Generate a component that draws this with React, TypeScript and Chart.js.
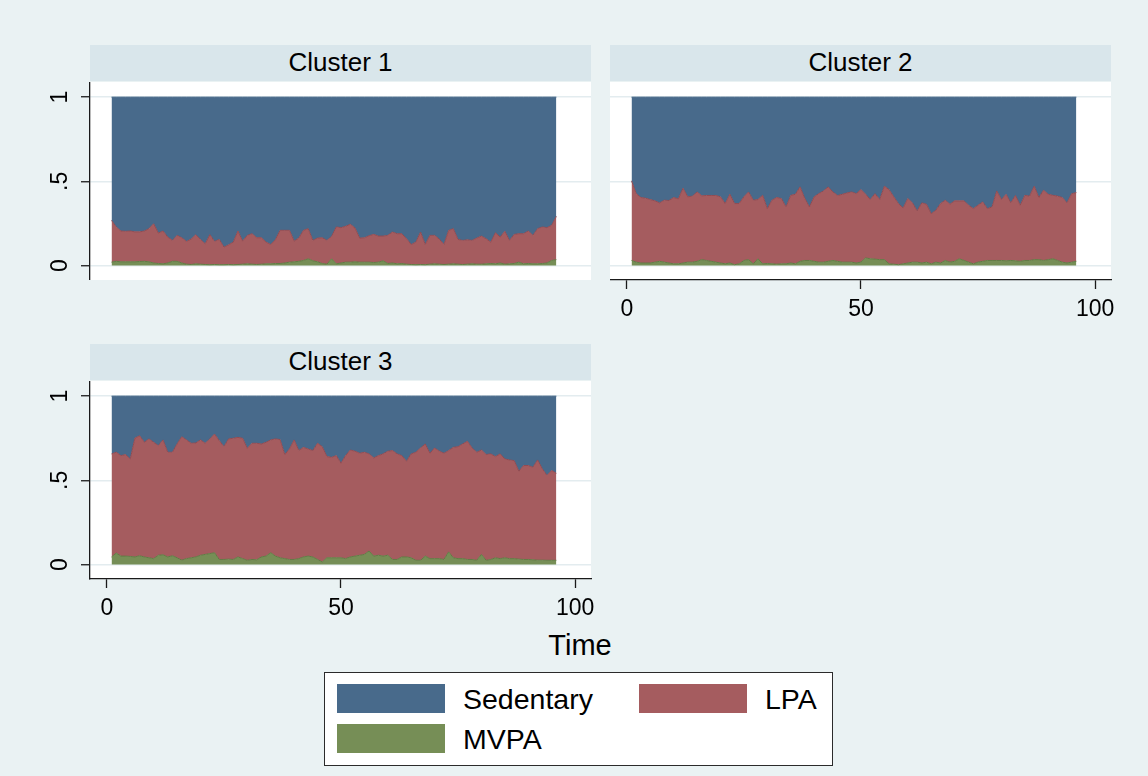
import React, { useEffect, useRef } from "react";
import { Chart, registerables } from "chart.js";

Chart.register(...registerables);

const TIME = Array.from({ length: 96 }, (_, i) => i + 1);
const X_TICKS = [0, 50, 100];
const Y_TICKS = [0, 0.5, 1];
const Y_TICK_LABELS = ["0", ".5", "1"];
const PANEL_TITLES = ["Cluster 1", "Cluster 2", "Cluster 3"];
const X_TITLE = "Time";
const LEGEND_ITEMS = ["Sedentary", "LPA", "MVPA"];

const C1_MVPA = [0.020,0.025,0.022,0.022,0.022,0.022,0.024,0.025,0.022,0.015,
0.012,0.010,0.015,0.025,0.025,0.015,0.008,0.006,0.010,0.008,
0.006,0.005,0.006,0.005,0.005,0.006,0.005,0.006,0.008,0.010,
0.008,0.006,0.008,0.010,0.010,0.012,0.012,0.015,0.020,0.022,
0.025,0.030,0.040,0.028,0.022,0.012,0.008,0.040,0.010,0.015,
0.020,0.020,0.022,0.020,0.020,0.020,0.018,0.020,0.028,0.012,
0.015,0.010,0.012,0.008,0.006,0.005,0.006,0.005,0.008,0.010,
0.008,0.006,0.008,0.010,0.008,0.006,0.008,0.010,0.008,0.008,
0.010,0.012,0.010,0.015,0.008,0.010,0.012,0.020,0.010,0.012,
0.010,0.010,0.012,0.015,0.030,0.035];

const C1_LPA = [0.248,0.204,0.183,0.181,0.183,0.178,0.176,0.180,0.197,0.233,
0.181,0.195,0.154,0.124,0.154,0.150,0.135,0.151,0.173,0.147,
0.123,0.178,0.137,0.150,0.104,0.117,0.134,0.199,0.137,0.169,
0.181,0.159,0.157,0.129,0.115,0.141,0.197,0.194,0.189,0.123,
0.138,0.179,0.179,0.121,0.141,0.153,0.141,0.133,0.219,0.210,
0.213,0.225,0.201,0.143,0.145,0.157,0.167,0.155,0.147,0.167,
0.184,0.179,0.177,0.151,0.119,0.134,0.193,0.120,0.171,0.169,
0.149,0.119,0.201,0.209,0.147,0.143,0.145,0.139,0.155,0.167,
0.149,0.127,0.185,0.154,0.195,0.139,0.173,0.169,0.179,0.193,
0.169,0.209,0.217,0.210,0.209,0.257];

const C1_SEDENTARY = [0.732,0.771,0.795,0.797,0.795,0.800,0.800,0.795,0.781,0.752,
0.807,0.795,0.831,0.851,0.821,0.835,0.857,0.843,0.817,0.845,
0.871,0.817,0.857,0.845,0.891,0.877,0.861,0.795,0.855,0.821,
0.811,0.835,0.835,0.861,0.875,0.847,0.791,0.791,0.791,0.855,
0.837,0.791,0.781,0.851,0.837,0.835,0.851,0.827,0.771,0.775,
0.767,0.755,0.777,0.837,0.835,0.823,0.815,0.825,0.825,0.821,
0.801,0.811,0.811,0.841,0.875,0.861,0.801,0.875,0.821,0.821,
0.843,0.875,0.791,0.781,0.845,0.851,0.847,0.851,0.837,0.825,
0.841,0.861,0.805,0.831,0.797,0.851,0.815,0.811,0.811,0.795,
0.821,0.781,0.771,0.775,0.761,0.708];

const C2_MVPA = [0.030,0.020,0.015,0.015,0.015,0.020,0.025,0.020,0.015,0.010,
0.010,0.015,0.020,0.020,0.025,0.035,0.030,0.025,0.020,0.015,
0.010,0.015,0.005,0.010,0.030,0.035,0.010,0.040,0.010,0.012,
0.010,0.008,0.010,0.010,0.015,0.010,0.025,0.030,0.030,0.025,
0.020,0.020,0.025,0.030,0.025,0.020,0.020,0.020,0.015,0.020,
0.045,0.040,0.038,0.035,0.035,0.010,0.008,0.005,0.010,0.015,
0.020,0.020,0.015,0.020,0.010,0.020,0.015,0.030,0.020,0.025,
0.040,0.030,0.020,0.010,0.020,0.025,0.030,0.030,0.030,0.030,
0.028,0.030,0.028,0.025,0.030,0.030,0.035,0.035,0.030,0.035,
0.040,0.030,0.020,0.015,0.020,0.025];

const C2_LPA = [0.473,0.407,0.389,0.385,0.377,0.364,0.347,0.368,0.371,0.394,
0.386,0.444,0.388,0.392,0.412,0.379,0.386,0.391,0.396,0.393,
0.358,0.408,0.363,0.358,0.378,0.402,0.378,0.352,0.407,0.326,
0.378,0.396,0.388,0.338,0.402,0.413,0.442,0.368,0.318,0.383,
0.407,0.423,0.442,0.407,0.391,0.403,0.411,0.417,0.412,0.431,
0.378,0.352,0.389,0.357,0.436,0.441,0.400,0.363,0.332,0.383,
0.352,0.304,0.357,0.344,0.298,0.308,0.353,0.358,0.344,0.359,
0.344,0.354,0.338,0.328,0.338,0.353,0.308,0.318,0.413,0.362,
0.395,0.342,0.388,0.333,0.387,0.382,0.436,0.369,0.417,0.388,
0.377,0.382,0.384,0.357,0.407,0.408];

const C2_SEDENTARY = [0.497,0.573,0.596,0.600,0.608,0.616,0.628,0.612,0.614,0.596,
0.604,0.541,0.592,0.588,0.563,0.586,0.584,0.584,0.584,0.592,
0.632,0.577,0.632,0.632,0.592,0.563,0.612,0.608,0.583,0.662,
0.612,0.596,0.602,0.652,0.583,0.577,0.533,0.602,0.652,0.592,
0.573,0.557,0.533,0.563,0.584,0.577,0.569,0.563,0.573,0.549,
0.577,0.608,0.573,0.608,0.529,0.549,0.592,0.632,0.658,0.602,
0.628,0.676,0.628,0.636,0.692,0.672,0.632,0.612,0.636,0.616,
0.616,0.616,0.642,0.662,0.642,0.622,0.662,0.652,0.557,0.608,
0.577,0.628,0.584,0.642,0.583,0.588,0.529,0.596,0.553,0.577,
0.583,0.588,0.596,0.628,0.573,0.567];

const C3_MVPA = [0.045,0.068,0.050,0.050,0.048,0.045,0.052,0.045,0.040,0.035,
0.055,0.058,0.045,0.052,0.040,0.026,0.035,0.040,0.045,0.055,
0.060,0.065,0.070,0.030,0.030,0.032,0.030,0.045,0.035,0.025,
0.030,0.028,0.045,0.050,0.070,0.050,0.040,0.035,0.030,0.030,
0.035,0.045,0.050,0.045,0.030,0.015,0.040,0.040,0.040,0.040,
0.035,0.045,0.050,0.055,0.060,0.080,0.050,0.055,0.050,0.055,
0.030,0.030,0.045,0.045,0.040,0.025,0.025,0.050,0.035,0.035,
0.035,0.030,0.075,0.040,0.035,0.035,0.030,0.030,0.025,0.060,
0.025,0.030,0.040,0.035,0.040,0.035,0.035,0.032,0.030,0.030,
0.028,0.026,0.026,0.025,0.025,0.025];

const C3_LPA = [0.612,0.599,0.597,0.603,0.579,0.706,0.713,0.681,0.706,0.691,
0.651,0.682,0.622,0.615,0.676,0.733,0.705,0.680,0.677,0.685,
0.660,0.681,0.705,0.706,0.670,0.714,0.720,0.710,0.715,0.665,
0.690,0.692,0.671,0.676,0.670,0.696,0.702,0.618,0.656,0.710,
0.642,0.651,0.636,0.632,0.690,0.685,0.601,0.597,0.607,0.562,
0.612,0.635,0.623,0.606,0.607,0.577,0.583,0.592,0.607,0.618,
0.647,0.627,0.602,0.568,0.617,0.642,0.667,0.666,0.626,0.657,
0.638,0.631,0.602,0.656,0.665,0.681,0.702,0.662,0.642,0.620,
0.628,0.627,0.601,0.622,0.587,0.586,0.582,0.522,0.558,0.558,
0.550,0.595,0.542,0.504,0.533,0.517];

const C3_SEDENTARY = [0.343,0.333,0.353,0.347,0.373,0.249,0.235,0.274,0.254,0.274,
0.294,0.260,0.333,0.333,0.284,0.241,0.260,0.280,0.278,0.260,
0.280,0.254,0.225,0.264,0.300,0.254,0.250,0.245,0.250,0.310,
0.280,0.280,0.284,0.274,0.260,0.254,0.258,0.347,0.314,0.260,
0.323,0.304,0.314,0.323,0.280,0.300,0.359,0.363,0.353,0.398,
0.353,0.320,0.327,0.339,0.333,0.343,0.367,0.353,0.343,0.327,
0.323,0.343,0.353,0.387,0.343,0.333,0.308,0.284,0.339,0.308,
0.327,0.339,0.323,0.304,0.300,0.284,0.268,0.308,0.333,0.320,
0.347,0.343,0.359,0.343,0.373,0.379,0.383,0.446,0.412,0.412,
0.422,0.379,0.432,0.471,0.442,0.458];

const FILL: Record<string, string> = {
  Sedentary: "#486a8b",
  LPA: "#a55c5f",
  MVPA: "#768e56",
};
const EDGE: Record<string, string> = {
  Sedentary: "#3f6082",
  LPA: "#914b52",
  MVPA: "#627b44",
};

const FONT = '"Liberation Sans", Arial, Helvetica, sans-serif';
const PAGE_BG = "#eaf2f3";
const BAND_BG = "#d9e6eb";
const GRID = "#e3ecef";

type PanelProps = {
  left: number;
  top: number;
  width: number;
  height: number;
  axisLeft: number;
  axisBottom: number;
  padRight: number;
  showY: boolean;
  showX: boolean;
  yLabelX: number;
  sed: number[];
  lpa: number[];
  mvpa: number[];
};

function Panel(p: PanelProps) {
  const ref = useRef<HTMLCanvasElement>(null);
  useEffect(() => {
    if (!ref.current) return;
    const bgPlugin = {
      id: "plotbg",
      beforeDraw(chart: any) {
        const { ctx, chartArea: a } = chart;
        ctx.save();
        ctx.fillStyle = "#ffffff";
        ctx.fillRect(a.left, a.top, a.right - a.left, a.bottom - a.top);
        ctx.restore();
      },
    };
    const yLabelPlugin = {
      id: "ylabels",
      afterDraw(chart: any) {
        if (!p.showY) return;
        const ys = chart.scales.y;
        const ctx = chart.ctx;
        ctx.save();
        ctx.font = `23px ${FONT}`;
        ctx.fillStyle = "#000";
        ctx.textAlign = "center";
        ctx.textBaseline = "middle";
        Y_TICKS.forEach((v, i) => {
          const y = ys.getPixelForValue(v);
          ctx.save();
          ctx.translate(p.yLabelX, y);
          ctx.rotate(-Math.PI / 2);
          ctx.fillText(Y_TICK_LABELS[i], 0, 0);
          ctx.restore();
        });
        ctx.restore();
      },
    };
    const mk = (name: string, data: number[], fill: string | boolean) => ({
      label: name,
      data,
      fill,
      backgroundColor: FILL[name],
      borderColor: EDGE[name],
      borderWidth: 1,
      pointRadius: 0,
      tension: 0,
    });
    const chart = new Chart(ref.current, {
      type: "line",
      data: {
        labels: TIME,
        datasets: [
          mk("MVPA", p.mvpa, "origin"),
          mk("LPA", p.lpa, "-1"),
          mk("Sedentary", p.sed, "-1"),
        ] as any,
      },
      options: {
        responsive: false,
        animation: false,
        layout: { padding: { left: 0, top: 0, bottom: 0, right: p.padRight } },
        plugins: { legend: { display: false }, tooltip: { enabled: false } },
        scales: {
          x: {
            type: "linear",
            min: -3.6,
            max: 103.4,
            display: p.showX,
            afterBuildTicks: (s: any) => {
              s.ticks = X_TICKS.map((v) => ({ value: v }));
            },
            afterFit: (s: any) => {
              s.height = p.axisBottom;
            },
            grid: {
              drawOnChartArea: false,
              drawTicks: true,
              tickLength: 9,
              tickColor: "#1a1a1a",
              tickWidth: 1.3,
            },
            border: { display: true, color: "#1a1a1a", width: 1.3 },
            ticks: {
              color: "#000",
              font: { family: FONT, size: 23 },
              padding: 7,
              maxRotation: 0,
              minRotation: 0,
              autoSkip: false,
            },
          },
          y: {
            type: "linear",
            stacked: true,
            min: -0.086,
            max: 1.09,
            afterBuildTicks: (s: any) => {
              s.ticks = Y_TICKS.map((v) => ({ value: v }));
            },
            afterFit: (s: any) => {
              s.width = p.axisLeft;
            },
            grid: {
              color: GRID,
              lineWidth: 1.5,
              drawTicks: p.showY,
              tickLength: 9,
              tickColor: "#1a1a1a",
              tickWidth: 1.3,
            },
            border: { display: p.showY, color: "#1a1a1a", width: 1.3 },
            ticks: { display: false },
          },
        },
      } as any,
      plugins: [bgPlugin, yLabelPlugin],
    });
    return () => chart.destroy();
  }, []);
  return (
    <canvas
      ref={ref}
      width={p.width}
      height={p.height}
      style={{
        position: "absolute",
        left: p.left,
        top: p.top,
        width: p.width,
        height: p.height,
      }}
    />
  );
}

function Band({ left, top, text }: { left: number; top: number; text: string }) {
  return (
    <div
      style={{
        position: "absolute",
        left,
        top,
        width: 501,
        height: 36,
        background: BAND_BG,
        color: "#000",
        fontFamily: FONT,
        fontSize: 26,
        lineHeight: "34px",
        textAlign: "center",
      }}
    >
      {text}
    </div>
  );
}

function LegendEntry({ name, x, y }: { name: string; x: number; y: number }) {
  return (
    <>
      <div
        style={{
          position: "absolute",
          left: x,
          top: y,
          width: 108,
          height: 29,
          background: FILL[name],
        }}
      />
      <div
        style={{
          position: "absolute",
          left: x + 126,
          top: y + 1,
          fontFamily: FONT,
          fontSize: 28.5,
          lineHeight: "29px",
          color: "#000",
          whiteSpace: "nowrap",
        }}
      >
        {name}
      </div>
    </>
  );
}

export default function App() {
  return (
    <div
      style={{
        position: "absolute",
        left: 0,
        top: 0,
        width: 1148,
        height: 776,
        background: PAGE_BG,
        overflow: "hidden",
      }}
    >
      <Band left={90} top={45} text={PANEL_TITLES[0]} />
      <Band left={610} top={45} text={PANEL_TITLES[1]} />
      <Band left={90} top={344} text={PANEL_TITLES[2]} />

      <Panel
        left={30}
        top={82}
        width={581}
        height={198}
        axisLeft={60}
        axisBottom={0}
        padRight={20}
        showY={true}
        showX={false}
        yLabelX={31}
        sed={C1_SEDENTARY}
        lpa={C1_LPA}
        mvpa={C1_MVPA}
      />
      <Panel
        left={610}
        top={82}
        width={521}
        height={240}
        axisLeft={0}
        axisBottom={42}
        padRight={20}
        showY={false}
        showX={true}
        yLabelX={0}
        sed={C2_SEDENTARY}
        lpa={C2_LPA}
        mvpa={C2_MVPA}
      />
      <Panel
        left={30}
        top={381}
        width={581}
        height={240}
        axisLeft={60}
        axisBottom={42}
        padRight={20}
        showY={true}
        showX={true}
        yLabelX={31}
        sed={C3_SEDENTARY}
        lpa={C3_LPA}
        mvpa={C3_MVPA}
      />

      <div
        style={{
          position: "absolute",
          left: 480,
          top: 631,
          width: 200,
          textAlign: "center",
          fontFamily: FONT,
          fontSize: 29,
          lineHeight: "29px",
          color: "#000",
        }}
      >
        {X_TITLE}
      </div>

      <div
        style={{
          position: "absolute",
          left: 324,
          top: 672,
          width: 509,
          height: 94,
          boxSizing: "border-box",
          background: "#ffffff",
          border: "1px solid #2b2b2b",
        }}
      />
      <LegendEntry name={LEGEND_ITEMS[0]} x={337} y={684} />
      <LegendEntry name={LEGEND_ITEMS[1]} x={639} y={684} />
      <LegendEntry name={LEGEND_ITEMS[2]} x={337} y={724} />
    </div>
  );
}
